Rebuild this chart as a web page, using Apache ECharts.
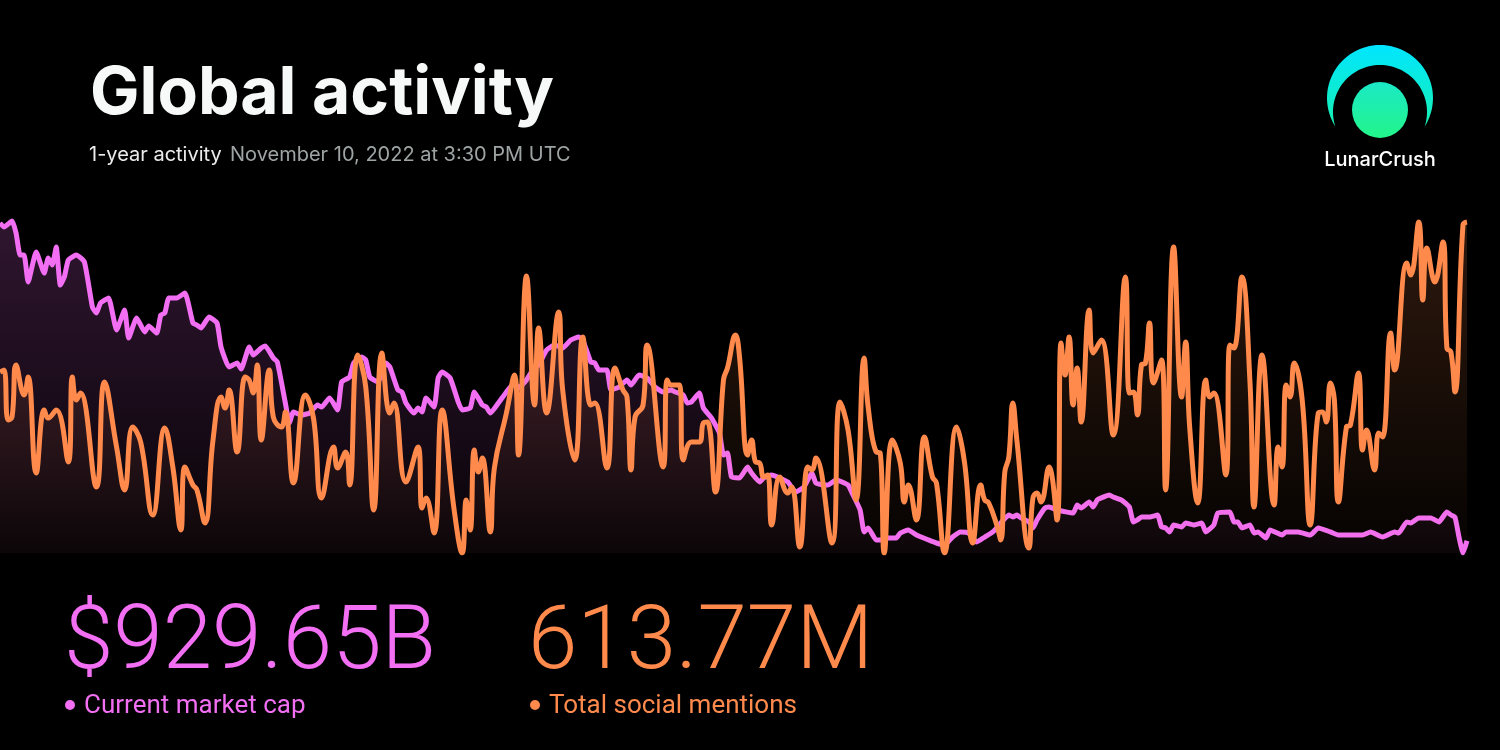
<!DOCTYPE html>
<html>
<head>
<meta charset="utf-8">
<script src="https://cdn.jsdelivr.net/npm/echarts@6/dist/echarts.min.js"></script>
<style>
  html, body { margin: 0; padding: 0; background: #000; }
  #chart { width: 1500px; height: 750px; }
</style>
</head>
<body>
<div id="chart"></div>
<script>
// Market cap ($B), sampled by day since Nov 10, 2021
const capDays = [0,1,3,4,5,6,7,9,11,12,13,14,15,16,17,19,21,23,24,25,27,29,31,32,34,36,37,39,40,41,42,44,46,48,49,50,52,54,55,57,59,60,62,63,65,66,68,69,71,72,73,75,77,79,80,82,84,85,87,88,90,91,92,94,96,97,99,100,101,103,104,105,106,108,109,110,112,114,115,117,118,120,121,122,124,126,128,129,131,133,134,136,138,140,142,144,145,147,148,149,151,152,154,156,157,159,161,163,165,167,168,170,171,172,174,175,177,179,180,181,182,184,186,187,189,190,192,194,196,198,200,202,203,205,206,208,211,212,214,215,216,218,219,221,223,224,226,228,231,233,235,237,239,241,243,245,247,248,249,251,252,253,254,256,257,258,260,261,263,267,268,269,271,272,273,274,276,277,279,280,281,282,283,284,286,288,289,290,291,292,294,295,297,299,300,302,303,306,307,308,309,311,312,313,315,316,319,320,323,326,328,331,333,339,341,344,347,348,350,351,353,356,358,360,361,362,363,364,365];
const capValues = [2995,2969,3008,2930,2787,2787,2612,2807,2670,2768,2722,2839,2592,2644,2755,2787,2742,2449,2410,2475,2508,2300,2430,2248,2378,2287,2326,2280,2397,2410,2508,2508,2540,2345,2332,2313,2384,2345,2189,2059,2085,2046,2189,2137,2183,2196,2118,2092,1825,1695,1767,1747,1760,1812,1799,1858,1780,1962,1994,2085,2124,2105,1994,1962,2085,2059,1910,1897,1825,1760,1793,1767,1858,1799,1988,2027,1988,1832,1780,1793,1897,1812,1799,1760,1825,1897,1955,1923,1975,2059,2072,2170,2202,2183,2235,2254,2235,2092,2085,2040,2040,1910,1929,1975,1942,2007,1988,1929,1897,1910,1897,1877,1825,1832,1890,1793,1728,1630,1487,1500,1344,1338,1409,1370,1312,1338,1357,1338,1312,1247,1279,1370,1305,1292,1292,1325,1292,1240,1130,987,1013,935,935,948,948,980,1000,967,935,915,902,954,987,980,922,954,987,1013,1045,1097,1084,1097,1078,1052,1013,1065,1143,1149,1130,1110,1162,1143,1182,1149,1195,1208,1227,1214,1195,1175,1149,1052,1065,1084,1084,1097,1019,1013,987,1032,1019,1045,1032,1045,987,1032,1110,1117,1052,1052,1013,1032,980,987,948,1000,967,987,987,967,1013,987,967,967,987,954,987,980,1052,1045,1078,1078,1052,1117,1097,1084,954,850,930];

// Social mentions (thousands per day)
const mentionDays = [0,1,2,3,4,6,7,9,11,12,14,17,18,19,20,24,26,29,31,33,35,38,41,43,45,46,48,49,51,53,55,56,57,59,61,62,63,64,65,67,68,70,71,73,76,78,80,83,84,86,87,89,91,93,95,97,98,101,104,105,106,108,110,113,115,116,117,118,119,120,122,123,126,128,129,131,133,134,136,139,140,143,145,147,148,151,153,155,156,157,158,160,161,165,166,167,169,170,172,174,175,176,178,180,181,183,184,186,187,188,189,190,191,192,194,196,197,199,201,202,203,207,209,211,213,215,216,218,219,220,222,224,225,226,228,230,232,233,235,238,240,242,244,245,246,248,249,250,251,252,253,256,257,258,259,261,263,264,265,266,267,268,269,271,272,274,277,280,281,282,283,284,285,286,287,289,290,292,294,295,296,298,300,301,302,305,306,307,309,311,312,314,317,318,319,320,321,322,324,326,328,329,330,331,332,333,335,336,338,339,340,342,343,344,346,347,350,351,353,354,355,357,359,360,361,362,364,365];
const mentionValues = [1948,1964,1564,1588,2004,1764,1908,1140,1644,1580,1644,1228,1908,1724,1780,1028,1868,1348,1004,1508,1388,804,1500,1188,684,1188,1044,1004,740,1404,1748,1660,1804,1308,1908,1884,1780,2004,1404,1964,1588,1508,1628,1060,1764,1580,940,1348,1180,1308,1044,2084,1828,844,2100,1620,1700,1068,1348,860,940,660,1644,844,500,924,684,1324,1148,1260,668,1180,1620,1924,1284,2716,1684,2300,1620,2428,1804,1244,2228,1684,1700,1180,1980,1804,1748,1164,1588,1684,2164,1188,1884,1844,1844,1244,1388,1388,1540,1548,988,1884,1980,2244,2068,1284,1404,1228,1220,1108,1124,724,1108,980,1028,548,1188,1164,1260,580,1708,1484,924,2060,1668,1308,1300,500,1404,1220,908,1044,764,1428,1108,1060,500,1508,1220,580,1044,924,900,724,604,1148,1268,1700,1404,540,940,980,908,1188,764,2180,1924,2228,1684,1980,1548,2444,2100,2204,1444,2708,1780,1788,1604,2004,2020,2340,1860,2044,1004,2948,1748,2188,1508,900,1884,1748,1780,1124,2164,2140,2708,1868,868,2084,884,1348,1188,1844,1748,2020,1724,724,1620,1628,1548,1860,1724,908,1508,1524,1940,1324,1484,1164,1460,1428,2260,1964,2820,2724,3148,2524,2940,2668,2988,2140,2108,1788,3124,3148];

const titleText = 'Global activity';
const periodText = '1-year activity';
const dateText = 'November 10, 2022 at 3:30 PM UTC';
const capLabel = '$929.65B';
const capCaption = 'Current market cap';
const mentionLabel = '613.77M';
const mentionCaption = 'Total social mentions';

const PINK = '#f26ff3';
const ORANGE = '#ff8a4c';

const chart = echarts.init(document.getElementById('chart'), null, { renderer: 'canvas' });
const capData = capDays.map((d, i) => [d, capValues[i]]);
const mentionData = mentionDays.map((d, i) => [d, mentionValues[i]]);
const LG = echarts.graphic.LinearGradient;

// Logo crescent: outer circle minus a lower offset circle, traced as a polygon
function crescentPoints(cx, oy, or, iy, ir) {
  const dy = iy - oy;
  const yi = ((or * or - ir * ir) / dy + (oy + iy)) / 2;
  const xi = Math.sqrt(or * or - (yi - oy) * (yi - oy));
  const pts = [];
  const n = 64;
  const a0 = Math.atan2(yi - oy, -xi), a1 = Math.atan2(yi - oy, xi);
  let spanO = a1 - a0; if (spanO < 0) spanO += 2 * Math.PI;
  for (let k = 0; k <= n; k++) {
    const a = a0 + k / n * spanO;
    pts.push([cx + or * Math.cos(a), oy + or * Math.sin(a)]);
  }
  const b0 = Math.atan2(yi - iy, xi), b1 = Math.atan2(yi - iy, -xi);
  let spanI = b1 - b0; if (spanI > 0) spanI -= 2 * Math.PI;
  for (let k = 0; k <= n; k++) {
    const a = b0 + k / n * spanI;
    pts.push([cx + ir * Math.cos(a), iy + ir * Math.sin(a)]);
  }
  return pts;
}
const crescent = crescentPoints(1380, 98, 53, 112, 47);

chart.setOption({
  backgroundColor: '#000',
  animation: false,
  grid: { left: 0, right: 33, top: 220, bottom: 197 },
  xAxis: { type: 'value', min: 0, max: 365, show: false },
  yAxis: [
    { type: 'value', min: 850, max: 3015, show: false },
    { type: 'value', min: 500, max: 3164, show: false }
  ],
  series: [
    {
      name: 'Market cap', type: 'line', yAxisIndex: 0, data: capData,
      showSymbol: false, smooth: 0.15,
      lineStyle: { color: PINK, width: 5, join: 'round' },
      areaStyle: { color: new LG(0, 0, 0, 1, [
        { offset: 0, color: 'rgba(242,111,243,0.28)' },
        { offset: 0.6, color: 'rgba(242,111,243,0.14)' },
        { offset: 1, color: 'rgba(242,111,243,0.04)' }
      ]) },
      z: 2
    },
    {
      name: 'Social mentions', type: 'line', yAxisIndex: 1, data: mentionData,
      showSymbol: false, smooth: 0.45,
      lineStyle: { color: ORANGE, width: 5, join: 'round' },
      areaStyle: { color: new LG(0, 0, 0, 1, [
        { offset: 0, color: 'rgba(255,138,76,0.26)' },
        { offset: 0.6, color: 'rgba(255,138,76,0.12)' },
        { offset: 1, color: 'rgba(255,138,76,0.03)' }
      ]) },
      z: 3
    }
  ],
  graphic: [
    { type: 'text', x: 90, y: 94, style: { text: titleText, fill: '#f7f9f9', font: 'bold 66px Inter', align: 'left', verticalAlign: 'middle', textAlign: 'left', textVerticalAlign: 'middle' } },
    { type: 'text', x: 89, y: 155, style: { text: periodText, fill: '#ececec', font: '20px Inter', align: 'left', verticalAlign: 'middle', textAlign: 'left', textVerticalAlign: 'middle' } },
    { type: 'text', x: 230, y: 155, style: { text: dateText, fill: '#9ea3a3', font: '20px Inter', align: 'left', verticalAlign: 'middle', textAlign: 'left', textVerticalAlign: 'middle' } },
    { type: 'polygon', shape: { points: crescent },
      style: { fill: new LG(0, 0, 0, 1, [ { offset: 0, color: '#00e6ff' }, { offset: 1, color: '#16efb2' } ]) } },
    { type: 'circle', shape: { cx: 1380, cy: 110, r: 28 },
      style: { fill: new LG(0, 0, 0, 1, [ { offset: 0, color: '#1be9c6' }, { offset: 1, color: '#22f58a' } ]) } },
    { type: 'text', x: 1380, y: 160, style: { text: 'LunarCrush', fill: '#ffffff', font: '500 20px Inter', align: 'center', verticalAlign: 'middle', textAlign: 'center', textVerticalAlign: 'middle' } },
    { type: 'text', x: 64, y: 646, style: { text: capLabel, fill: PINK, font: '300 89px Roboto', align: 'left', verticalAlign: 'middle', textAlign: 'left', textVerticalAlign: 'middle' } },
    { type: 'text', x: 528, y: 646, style: { text: mentionLabel, fill: ORANGE, font: '300 89px Roboto', align: 'left', verticalAlign: 'middle', textAlign: 'left', textVerticalAlign: 'middle' } },
    { type: 'circle', shape: { cx: 70, cy: 705, r: 5 }, style: { fill: PINK } },
    { type: 'text', x: 84, y: 706, style: { text: capCaption, fill: PINK, font: '26px Roboto', align: 'left', verticalAlign: 'middle', textAlign: 'left', textVerticalAlign: 'middle' } },
    { type: 'circle', shape: { cx: 535, cy: 705, r: 5 }, style: { fill: ORANGE } },
    { type: 'text', x: 549, y: 706, style: { text: mentionCaption, fill: ORANGE, font: '26px Roboto', align: 'left', verticalAlign: 'middle', textAlign: 'left', textVerticalAlign: 'middle' } }
  ]
});
</script>
</body>
</html>
